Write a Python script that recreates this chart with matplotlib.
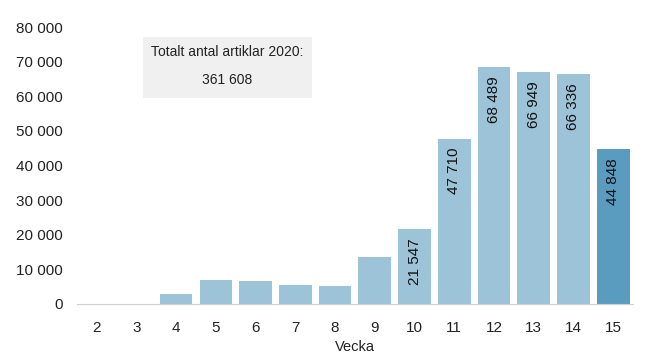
import matplotlib
matplotlib.use('Agg')
import matplotlib.pyplot as plt
from matplotlib.patches import Rectangle

plt.rcParams['font.family'] = ['Liberation Sans', 'DejaVu Sans']

weeks = [2, 3, 4, 5, 6, 7, 8, 9, 10, 11, 12, 13, 14, 15]
articles = [30, 60, 2800, 6900, 6600, 5400, 5100, 13600, 21547, 47710, 68489, 66949, 66336, 44848]
labelled_weeks = [10, 11, 12, 13, 14, 15]
yticks = [0, 10000, 20000, 30000, 40000, 50000, 60000, 70000, 80000]
total_2020 = 361608

LIGHT = '#9dc3d9'
DARK = '#5a9cc0'


def fmt(v):
    return f'{v:,}'.replace(',', ' ')


fig = plt.figure(figsize=(6.5, 3.61), dpi=100)
ax = fig.add_axes([0.118, 0.158, 0.856, 0.767])

pos = list(range(len(weeks)))
colors = [DARK if w == weeks[-1] else LIGHT for w in weeks]
ax.bar(pos, articles, width=0.82, color=colors)

for p, w, v in zip(pos, weeks, articles):
    if w in labelled_weeks:
        ax.annotate(fmt(v), (p, v), xytext=(0, -6.5), textcoords='offset points',
                    rotation=90, ha='center', va='top', fontsize=11, color='#111111')

ax.set_xlim(-0.5, len(weeks) - 0.5)
ax.set_ylim(0, 80000)
ax.set_xticks(pos, [str(w) for w in weeks])
ax.set_yticks(yticks, [fmt(t) for t in yticks])
ax.tick_params(axis='x', length=0, pad=12, labelsize=11, colors='#222222')
ax.tick_params(axis='y', length=0, pad=10, labelsize=11, colors='#222222')
ax.set_xlabel('Vecka', fontsize=10.5, color='#222222', labelpad=4)

for s in ['top', 'right', 'left']:
    ax.spines[s].set_visible(False)
ax.spines['bottom'].set_color('#d0d0d0')

# info box with the total
fig.patches.append(Rectangle((143 / 650, 1 - 98 / 361), 169 / 650, 61 / 361,
                             transform=fig.transFigure, facecolor='#f0f0f0',
                             edgecolor='none', zorder=0))
fig.text(227 / 650, 1 - 52 / 361, 'Totalt antal artiklar 2020:', ha='center', va='center',
         fontsize=10, color='#222222')
fig.text(227 / 650, 1 - 80 / 361, fmt(total_2020), ha='center', va='center',
         fontsize=10, color='#222222')

fig.savefig('out.png', dpi=100)
